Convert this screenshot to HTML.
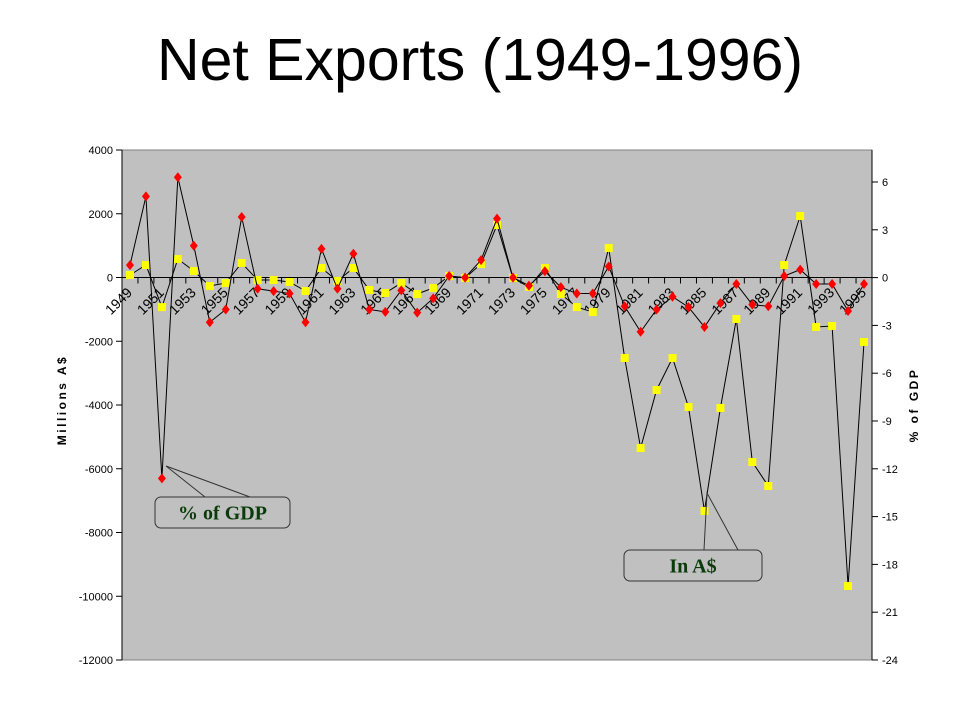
<!DOCTYPE html>
<html><head><meta charset="utf-8"><style>
body{margin:0;background:#fff;width:960px;height:720px;overflow:hidden;font-family:"Liberation Sans",sans-serif}
#title{position:absolute;left:0;top:26px;width:960px;text-align:center;font-size:59px;color:#000}
</style></head><body>
<div id="title">Net Exports (1949-1996)</div>
<svg id="chart" width="960" height="720" style="position:absolute;left:0;top:0"></svg>
<script>
const years=[1949,1950,1951,1952,1953,1954,1955,1956,1957,1958,1959,1960,1961,1962,1963,1964,1965,1966,1967,1968,1969,1970,1971,1972,1973,1974,1975,1976,1977,1978,1979,1980,1981,1982,1983,1984,1985,1986,1987,1988,1989,1990,1991,1992,1993,1994,1995];
const netExportsAUD=[78,392,-929,580,204,-267,-173,455,-78,-78,-141,-424,298,-110,298,-392,-486,-173,-518,-329,47,-16,424,1647,-16,-298,298,-518,-929,-1082,925,-2525,-5349,-3529,-2525,-4063,-7325,-4094,-1302,-5788,-6541,392,1929,-1553,-1522,-9678,-2024];
const pctGDP=[0.78,5.1,-12.6,6.3,2.0,-2.8,-2.0,3.8,-0.7,-0.85,-1.0,-2.8,1.8,-0.7,1.5,-2.0,-2.15,-0.8,-2.2,-1.3,0.1,0,1.1,3.7,0,-0.5,0.4,-0.6,-1.0,-1.0,0.7,-1.8,-3.4,-2.0,-1.2,-1.85,-3.1,-1.6,-0.4,-1.7,-1.8,0.1,0.5,-0.4,-0.4,-2.1,-0.4];
const leftTicks=[4000,2000,0,-2000,-4000,-6000,-8000,-10000,-12000];
const rightTicks=[6,3,0,-3,-6,-9,-12,-15,-18,-21,-24];
const L=122,R=872,T=150,B=660;
const bw=(R-L)/years.length;
const xS=i=>L+bw*(i+0.5);
const yL=v=>T+(4000-v)/16000*(B-T);
const yR=v=>182+(6-v)/30*(B-182);
const svg=document.getElementById('chart');
const NS='http://www.w3.org/2000/svg';
function mk(tag,attrs,parent){const e=document.createElementNS(NS,tag);for(const k in attrs)e.setAttribute(k,attrs[k]);(parent||svg).appendChild(e);return e;}
let e;
e=mk('rect',{x:L,y:T,width:R-L,height:B-T,fill:'#c0c0c0',stroke:'#808080'});


e=mk('line',{x1:L,y1:T,x2:L,y2:B,stroke:'#000'});


leftTicks.forEach(v=>{const y=yL(v);
 mk('line',{x1:L-6,y1:y,x2:L,y2:y,stroke:'#000'});
 e=mk('text',{x:L-9,y:y+4,'text-anchor':'end','font-size':'11'});e.textContent=v;
 
 
});
e=mk('line',{x1:R,y1:T,x2:R,y2:B,stroke:'#000'});


rightTicks.forEach(v=>{const y=yR(v);
 mk('line',{x1:R,y1:y,x2:R+6,y2:y,stroke:'#000'});
 e=mk('text',{x:R+10,y:y+4,'text-anchor':'start','font-size':'11'});e.textContent=v;
 
 
});
const y0=yL(0);
e=mk('line',{x1:L,y1:y0,x2:R,y2:y0,stroke:'#000'});


for(let i=0;i<=years.length;i++){const x=L+bw*i;mk('line',{x1:x,y1:y0,x2:x,y2:y0+6,stroke:'#000'});}
years.forEach((yr,i)=>{if(i%2)return;const x=xS(i)+3,y=y0+16;
 e=mk('text',{x:x,y:y,'text-anchor':'end','font-size':'14',transform:`rotate(-45 ${x} ${y})`});e.textContent=yr;
 
 
});
function series(vals,sc,name,color,shape){
 const g=mk('g',{});
 
 
 mk('polyline',{points:vals.map((v,i)=>xS(i)+','+sc(v)).join(' '),fill:'none',stroke:'#000','stroke-width':1},g);
 vals.forEach((v,i)=>{const x=xS(i),y=sc(v);let m;
  if(shape==='sq')m=mk('rect',{x:x-4,y:y-4,width:8,height:8,fill:color},g);
  else m=mk('polygon',{points:`${x},${y-5} ${x+4},${y} ${x},${y+5} ${x-4},${y}`,fill:color},g);
  
  
 });
}
series(netExportsAUD,yL,'series-in-aud','#ffff00','sq');
series(pctGDP,yR,'series-pct-gdp','#ff0000','dia');
e=mk('text',{x:66,y:400,'text-anchor':'middle','font-size':'12','font-weight':'bold','letter-spacing':'2.5',transform:'rotate(-90 66 400)'});e.textContent='Millions A$';


e=mk('text',{x:918,y:405,'text-anchor':'middle','font-size':'12','font-weight':'bold','letter-spacing':'2.5',transform:'rotate(-90 918 405)'});e.textContent='% of GDP';


function callout(px,py,bx,by,bwid,bh,txt,name,p1,p2){
 const g=mk('g',{});
 
 
 mk('polyline',{points:`${p1},${by} ${px},${py} ${p2},${by}`,fill:'none',stroke:'#333'},g);
 mk('rect',{x:bx,y:by,width:bwid,height:bh,rx:6,fill:'#c0c0c0',stroke:'#333'},g);
 const t=mk('text',{x:bx+bwid/2,y:by+bh/2+7,'text-anchor':'middle','font-size':'20','font-weight':'bold','font-family':'Liberation Serif,serif',fill:'#0b3b0b'},g);t.textContent=txt;
}
callout(166,466,155,497,135,31,'% of GDP','callout-pct-gdp',205,250);
callout(707,493,624,550,138,31,'In A$','callout-in-aud',704,738);
</script>
</body></html>
